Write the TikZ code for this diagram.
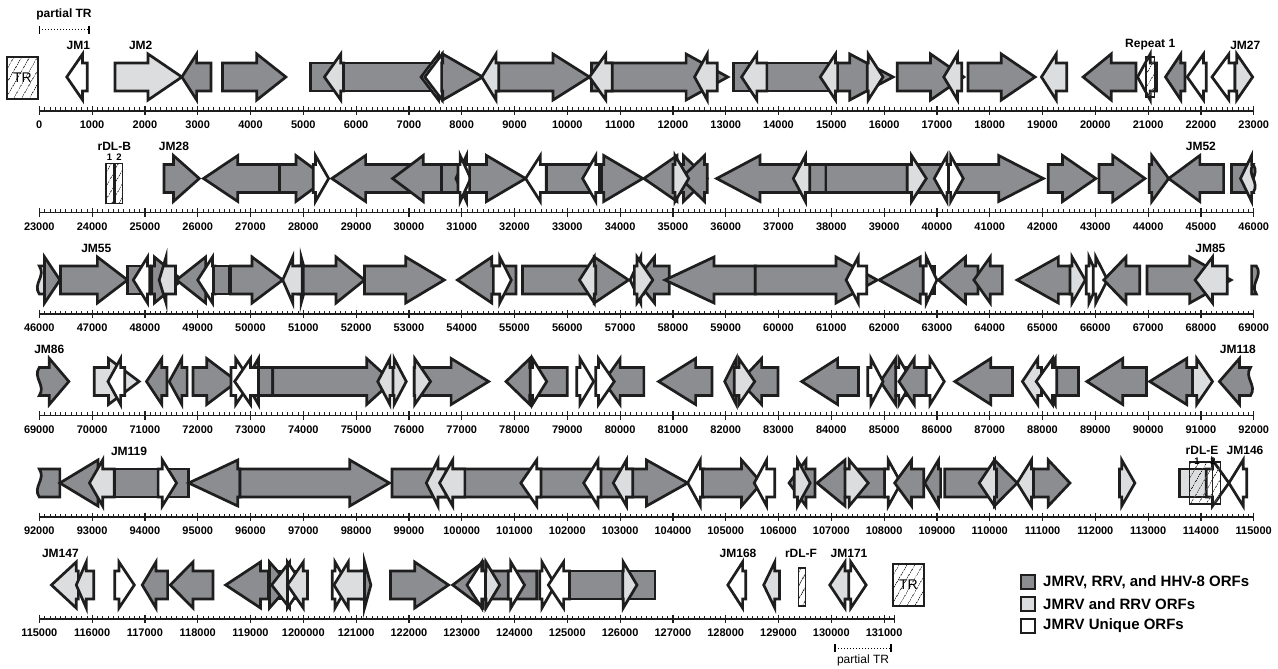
\documentclass[tikz,border=0pt]{standalone}
\usepackage{fontspec}
\setmainfont{Liberation Sans}
\usetikzlibrary{patterns.meta}
\definecolor{dkg}{HTML}{8C8D91}
\definecolor{ltg}{HTML}{DCDDDF}
\definecolor{ol}{HTML}{1E1E1E}
\tikzset{
  orf/.style={draw=ol, line width=2.7pt, line join=miter},
  dk/.style={orf, fill=dkg},
  lt/.style={orf, fill=ltg},
  wt/.style={orf, fill=white},
  hatchbox/.style={draw=ol, line width=1.3pt, pattern={Lines[angle=60,distance=6.5pt,line width=0.7pt]}, pattern color=ol},
  lab/.style={font=\bfseries\fontsize{12}{13}\selectfont, inner sep=0pt},
  small/.style={font=\bfseries\fontsize{9.5}{10}\selectfont, inner sep=0pt},
  ticklab/.style={font=\bfseries\fontsize{11}{12}\selectfont, inner sep=0pt},
  leg/.style={font=\bfseries\fontsize{15}{16}\selectfont, inner sep=0pt, anchor=west},
}
\newcommand\cy{{77,178.5,280,381.5,483,585}}
% gene arrow: row, back (kb), tip (kb), head length (kb), style
\newcommand\gn[5]{%
  \pgfmathsetmacro\xb{39.3+(#2-23*#1)*52.8}%
  \pgfmathsetmacro\xt{39.3+(#3-23*#1)*52.8}%
  \pgfmathsetmacro\xh{\xt-sign(#3-#2)*#4*52.8}%
  \pgfmathsetmacro\yc{\cy[#1]}%
  \draw[#5] (\xb,\yc-14) -- (\xh,\yc-14) -- (\xh,\yc-23) -- (\xt,\yc) -- (\xh,\yc+23) -- (\xh,\yc+14) -- (\xb,\yc+14) -- cycle;
}
% gene arrow with wavy back edge
\newcommand\gnw[5]{%
  \pgfmathsetmacro\xb{39.3+(#2-23*#1)*52.8}%
  \pgfmathsetmacro\xt{39.3+(#3-23*#1)*52.8}%
  \pgfmathsetmacro\xh{\xt-sign(#3-#2)*#4*52.8}%
  \pgfmathsetmacro\yc{\cy[#1]}%
  \draw[#5] (\xb,\yc-14) -- (\xh,\yc-14) -- (\xh,\yc-23) -- (\xt,\yc) -- (\xh,\yc+23) -- (\xh,\yc+14) -- (\xb,\yc+14) .. controls (\xb+7,\yc+4) and (\xb-7,\yc-4) .. cycle;
}
% rectangle (body only): row, a, b, style
\newcommand\gr[4]{%
  \pgfmathsetmacro\xa{39.3+(#2-23*#1)*52.8}%
  \pgfmathsetmacro\xb{39.3+(#3-23*#1)*52.8}%
  \pgfmathsetmacro\yc{\cy[#1]}%
  \draw[#4] (\xa,\yc-14) rectangle (\xb,\yc+14);
}
% rectangle with wavy edge at b
\newcommand\grw[4]{%
  \pgfmathsetmacro\xa{39.3+(#2-23*#1)*52.8}%
  \pgfmathsetmacro\xb{39.3+(#3-23*#1)*52.8}%
  \pgfmathsetmacro\yc{\cy[#1]}%
  \draw[#4] (\xa,\yc-14) -- (\xb,\yc-14) .. controls (\xb+7,\yc-4) and (\xb-7,\yc+4) .. (\xb,\yc+14) -- (\xa,\yc+14) -- cycle;
}
% hatched box: row, a, b, half height, vertical shift
\newcommand\ghb[5]{%
  \pgfmathsetmacro\xa{39.3+(#2-23*#1)*52.8}%
  \pgfmathsetmacro\xb{39.3+(#3-23*#1)*52.8}%
  \pgfmathsetmacro\yc{\cy[#1]+#5}%
  \draw[hatchbox] (\xa,\yc-#4) rectangle (\xb,\yc+#4);
}
% label above a row: name, row, kb, text
\newcommand\glab[4]{%
  \pgfmathsetmacro\xl{39.3+(#3-23*#2)*52.8}%
  \pgfmathsetmacro\yl{\cy[#2]-32}%
  \node[lab] (#1) at (\xl,\yl) {#4};
}
% axis: row, number of 100 bp steps, number of kb labels
\newcommand\axisrow[3]{%
  \pgfmathsetmacro\ya{\cy[#1]+34}%
  \foreach \i in {0,...,#2} {\draw[line width=0.6pt,ol] ({39.3+\i*5.28},\ya) -- ++(0,-3.5);}
  \draw[line width=1.6pt,ol] (38.8,\ya) -- ({39.8+#2*5.28},\ya);
  \foreach \k in {0,...,#3} {%
    \draw[line width=1.2pt,ol] ({39.3+\k*52.8},\ya-4.5) -- ++(0,8.5);
    \node[ticklab] (t#1x\k) at ({39.3+\k*52.8},\ya+14) {\ifnum\numexpr23*#1+\k\relax=120 1200000\else\the\numexpr(23*#1+\k)*1000\relax\fi};
  }
  \draw[line width=1.2pt,ol] ({39.3+#2*5.28},\ya-4.5) -- ++(0,8.5);
}
\begin{document}
\begin{tikzpicture}[x=1pt,y=-1pt]
\useasboundingbox[fill=white] (0,0) rectangle (1278,669);

% ---------------- axes ----------------
\axisrow{0}{230}{23}
\axisrow{1}{230}{23}
\axisrow{2}{230}{23}
\axisrow{3}{230}{23}
\axisrow{4}{230}{23}
\axisrow{5}{162}{16}

% ---------------- row 1 (0-23 kb) ----------------
\draw[hatchbox] (7,57) rectangle (38,99);
\node[font=\fontsize{14}{15}\selectfont, inner sep=0pt] (trL) at (22.5,78) {TR};
\node[lab] (ptr1) at (64,14) {partial TR};
\coordinate (pa1) at (39.3,30);
\coordinate (pb1) at (89,30);
\draw[dotted, line width=1pt] (pa1) -- (pb1);
\draw[line width=1.2pt] ([yshift=-4pt]pa1) -- ([yshift=4pt]pa1);
\draw[line width=1.2pt] ([yshift=-4pt]pb1) -- ([yshift=4pt]pb1);
\glab{jm1}{0}{0.74}{JM1}
\glab{jm2}{0}{1.92}{JM2}
\glab{rep1}{0}{21.04}{Repeat 1}
\glab{jm27}{0}{22.84}{JM27}

\gn{0}{0.91}{0.52}{0.30}{wt}
\gn{0}{1.435}{2.70}{0.64}{lt}
\gn{0}{3.25}{2.70}{0.28}{dk}
\gn{0}{3.47}{4.67}{0.55}{dk}
\gr{0}{5.13}{7.55}{dk}
\gn{0}{5.76}{5.40}{0.31}{lt}
\gn{0}{7.62}{7.23}{0.33}{wt}
\gn{0}{7.67}{7.30}{0.33}{wt}
\gn{0}{7.62}{8.40}{0.76}{dk}
\gn{0}{8.69}{10.42}{0.69}{dk}
\gn{0}{8.70}{8.38}{0.27}{lt}
\gn{0}{10.46}{13.04}{0.79}{dk}
\gn{0}{10.85}{10.42}{0.31}{lt}
\gn{0}{12.84}{12.41}{0.24}{lt}
\gr{0}{13.15}{15.12}{dk}
\gn{0}{13.78}{13.30}{0.29}{lt}
\gn{0}{15.12}{16.17}{0.82}{dk}
\gn{0}{15.12}{14.79}{0.29}{lt}
\gn{0}{15.68}{15.98}{0.28}{lt}
\gn{0}{16.25}{17.51}{0.63}{dk}
\gn{0}{17.47}{17.13}{0.26}{lt}
\gn{0}{17.59}{18.86}{0.64}{dk}
\gn{0}{19.46}{18.98}{0.28}{lt}
\gn{0}{20.77}{19.77}{0.53}{dk}
\gn{0}{21.16}{20.80}{0.24}{wt}
\ghb{0}{20.96}{21.12}{20}{0}
\gn{0}{21.70}{21.33}{0.29}{dk}
\gn{0}{22.10}{21.74}{0.31}{wt}
\gn{0}{22.645}{22.21}{0.32}{wt}
\gn{0}{22.645}{22.98}{0.30}{lt}

% ---------------- row 2 (23-46 kb) ----------------
\glab{rdlb}{1}{24.42}{rDL-B}
\node[small] (rdlb1) at ({39.3+(24.33-23)*52.8},157) {1};
\node[small] (rdlb2) at ({39.3+(24.51-23)*52.8},157) {2};
\glab{jm28}{1}{25.55}{JM28}
\glab{jm52}{1}{45.0}{JM52}
\ghb{1}{24.263}{24.40}{20}{5}
\ghb{1}{24.434}{24.58}{20}{5}
\gn{1}{25.36}{26.03}{0.49}{dk}
\gn{1}{27.55}{26.11}{0.65}{dk}
\gn{1}{27.55}{28.45}{0.59}{dk}
\gn{1}{28.19}{28.48}{0.25}{wt}
\gn{1}{30.62}{28.54}{0.64}{dk}
\gn{1}{30.62}{29.69}{0.58}{dk}
\gr{1}{30.62}{30.95}{dk}
\gn{1}{31.16}{30.89}{0.20}{wt}
\gn{1}{30.93}{31.17}{0.20}{wt}
\gn{1}{31.15}{32.21}{0.74}{dk}
\gn{1}{32.60}{32.21}{0.28}{wt}
\gr{1}{32.60}{33.60}{dk}
\gn{1}{33.61}{33.29}{0.25}{wt}
\gn{1}{33.65}{34.43}{0.74}{dk}
\gn{1}{35.10}{34.45}{0.63}{dk}
\gn{1}{35.10}{35.65}{0.45}{dk}
\gn{1}{35.65}{35.15}{0.45}{dk}
\gn{1}{35.00}{35.30}{0.26}{lt}
\gn{1}{37.90}{35.83}{0.82}{dk}
\gr{1}{37.90}{39.44}{dk}
\gn{1}{37.59}{37.28}{0.23}{lt}
\gn{1}{39.44}{42.015}{0.845}{dk}
\gn{1}{39.44}{39.80}{0.28}{lt}
\gn{1}{40.27}{39.95}{0.24}{wt}
\gn{1}{40.22}{40.50}{0.24}{wt}
\gn{1}{42.11}{43.01}{0.63}{dk}
\gn{1}{43.07}{43.94}{0.61}{dk}
\gn{1}{44.02}{44.39}{0.32}{dk}
\gn{1}{45.43}{44.39}{0.59}{dk}
\grw{1}{45.58}{45.99}{dk}
\gnw{1}{45.99}{45.75}{0.21}{lt}

% ---------------- row 3 (46-69 kb) ----------------
\glab{jm55}{2}{47.08}{JM55}
\glab{jm85}{2}{68.18}{JM85}
\grw{2}{46.12}{46.00}{lt}
\gn{2}{46.10}{46.39}{0.29}{dk}
\gn{2}{46.40}{47.67}{0.57}{dk}
\gr{2}{47.67}{47.95}{dk}
\gn{2}{48.09}{47.78}{0.27}{wt}
\gn{2}{48.13}{48.70}{0.52}{dk}
\gn{2}{48.58}{48.27}{0.13}{lt}
\gn{2}{49.20}{48.60}{0.55}{dk}
\gn{2}{49.33}{49.00}{0.28}{wt}
\gr{2}{49.30}{49.59}{dk}
\gn{2}{49.62}{50.61}{0.58}{dk}
\gn{2}{50.90}{51.08}{0.12}{dk}
\gn{2}{50.98}{50.61}{0.19}{lt}
\gn{2}{51.00}{52.16}{0.54}{dk}
\gn{2}{52.16}{53.67}{0.73}{dk}
\gn{2}{55.03}{53.92}{0.65}{dk}
\gn{2}{54.60}{54.94}{0.22}{wt}
\gn{2}{55.15}{57.16}{0.65}{dk}
\gn{2}{56.54}{56.23}{0.28}{lt}
\gn{2}{57.45}{57.19}{0.20}{lt}
\gn{2}{57.93}{57.30}{0.35}{dk}
\gn{2}{57.27}{57.62}{0.30}{lt}
\gn{2}{59.56}{57.85}{0.93}{dk}
\gn{2}{59.56}{61.87}{0.78}{dk}
\gn{2}{61.67}{61.28}{0.23}{wt}
\gn{2}{62.74}{61.905}{0.78}{dk}
\gr{2}{62.74}{62.96}{dk}
\gn{2}{62.74}{63.00}{0.20}{wt}
\gn{2}{63.78}{63.03}{0.51}{dk}
\gn{2}{64.24}{63.70}{0.31}{dk}
\gn{2}{65.53}{64.52}{0.78}{dk}
\gn{2}{65.52}{65.81}{0.25}{lt}
\gn{2}{65.83}{66.08}{0.20}{wt}
\gn{2}{65.96}{66.23}{0.22}{wt}
\gn{2}{66.84}{66.16}{0.42}{dk}
\gn{2}{66.98}{68.57}{0.78}{dk}
\gn{2}{68.50}{67.89}{0.33}{lt}
\grw{2}{68.96}{69.05}{dk}

% ---------------- row 4 (69-92 kb) ----------------
\glab{jm86}{3}{69.19}{JM86}
\glab{jm118}{3}{91.70}{JM118}
\gnw{3}{69.00}{69.56}{0.37}{dk}
\gn{3}{70.04}{70.89}{0.58}{lt}
\gn{3}{70.62}{70.30}{0.24}{wt}
\gn{3}{71.42}{71.03}{0.29}{dk}
\gn{3}{71.80}{71.46}{0.24}{dk}
\gn{3}{71.91}{72.75}{0.58}{dk}
\gn{3}{73.42}{72.90}{0.25}{dk}
\gn{3}{72.63}{73.01}{0.29}{wt}
\gn{3}{73.15}{72.70}{0.30}{wt}
\gn{3}{73.42}{75.68}{0.48}{dk}
\gn{3}{75.72}{75.41}{0.23}{lt}
\gn{3}{75.70}{75.95}{0.23}{lt}
\gn{3}{76.10}{77.51}{0.71}{dk}
\gn{3}{76.10}{76.41}{0.30}{lt}
\gn{3}{79.00}{77.84}{0.45}{dk}
\gn{3}{78.30}{78.61}{0.27}{wt}
\gn{3}{79.18}{79.50}{0.26}{wt}
\gn{3}{80.45}{79.69}{0.31}{dk}
\gn{3}{79.54}{79.89}{0.30}{wt}
\gn{3}{81.74}{80.73}{0.70}{dk}
\gn{3}{82.99}{82.27}{0.41}{dk}
\gn{3}{82.20}{81.98}{0.22}{dk}
\gn{3}{82.16}{82.55}{0.30}{lt}
\gn{3}{84.515}{83.44}{0.68}{dk}
\gn{3}{85.80}{84.93}{0.29}{dk}
\gn{3}{84.69}{84.98}{0.23}{wt}
\gn{3}{85.22}{85.53}{0.25}{wt}
\gn{3}{85.80}{85.28}{0.29}{dk}
\gn{3}{85.80}{86.14}{0.27}{wt}
\gn{3}{87.43}{86.34}{0.68}{dk}
\gn{3}{88.68}{87.98}{0.26}{dk}
\gn{3}{87.98}{87.62}{0.29}{lt}
\gn{3}{88.27}{87.88}{0.31}{wt}
\gn{3}{89.97}{88.84}{0.68}{dk}
\gn{3}{90.84}{90.03}{0.70}{dk}
\gn{3}{90.84}{91.22}{0.30}{lt}
\gnw{3}{91.94}{91.35}{0.38}{dk}

% ---------------- row 5 (92-115 kb) ----------------
\glab{jm119}{4}{93.70}{JM119}
\grw{4}{92.39}{92.00}{dk}
\gn{4}{93.19}{92.39}{0.72}{dk}
\gn{4}{93.42}{92.95}{0.25}{lt}
\gr{4}{93.42}{94.83}{dk}
\gn{4}{94.25}{94.60}{0.27}{wt}
\gn{4}{95.80}{94.83}{0.93}{dk}
\gn{4}{95.80}{98.63}{0.75}{dk}
\gn{4}{98.68}{104.28}{0.78}{dk}
\gn{4}{99.70}{99.33}{0.22}{lt}
\gn{4}{100.06}{99.58}{0.25}{lt}
\gn{4}{101.50}{101.12}{0.30}{wt}
\gn{4}{102.64}{102.31}{0.27}{wt}
\gn{4}{103.24}{102.87}{0.25}{lt}
\gn{4}{104.58}{104.28}{0.24}{wt}
\gn{4}{104.56}{105.68}{0.38}{dk}
\gn{4}{105.93}{105.54}{0.235}{wt}
\gn{4}{106.69}{106.20}{0.32}{dk}
\gn{4}{106.30}{106.60}{0.24}{lt}
\gn{4}{108.01}{106.73}{0.53}{dk}
\gn{4}{107.26}{107.70}{0.36}{lt}
\gn{4}{108.01}{108.32}{0.24}{wt}
\gn{4}{108.75}{108.20}{0.32}{dk}
\gn{4}{109.07}{108.77}{0.26}{dk}
\gn{4}{109.15}{110.52}{0.43}{dk}
\gn{4}{110.13}{109.80}{0.29}{lt}
\gn{4}{110.79}{111.52}{0.41}{dk}
\gn{4}{110.83}{110.52}{0.27}{lt}
\gn{4}{112.46}{112.75}{0.25}{lt}
\gr{4}{113.60}{114.15}{lt}
\gn{4}{114.10}{114.53}{0.31}{wt}
\ghb{4}{113.79}{114.22}{21}{0}
\ghb{4}{114.22}{114.37}{21}{0}
\gn{4}{114.87}{114.53}{0.27}{wt}
\node[lab] (rdle) at (1202,450) {rDL-E};
\node[small] (rdle1) at (1197,461) {1};
\node[small] (rdle2) at (1213,461) {2};
\node[lab] (jm146) at (1245,450) {JM146};

% ---------------- row 6 (115-131 kb) ----------------
\glab{jm147}{5}{115.40}{JM147}
\node[lab] (jm168) at (738,553) {JM168};
\node[lab] (rdlf) at (801,553) {rDL-F};
\node[lab] (jm171) at (849,553) {JM171};
\gn{5}{115.74}{115.23}{0.47}{lt}
\gn{5}{116.03}{115.70}{0.19}{lt}
\gn{5}{116.43}{116.80}{0.29}{wt}
\gn{5}{117.43}{116.95}{0.26}{dk}
\gn{5}{118.29}{117.48}{0.43}{dk}
\gn{5}{119.34}{118.53}{0.66}{dk}
\gr{5}{119.34}{120.08}{lt}
\gn{5}{119.36}{119.74}{0.38}{dk}
\gn{5}{119.74}{119.40}{0.34}{lt}
\gn{5}{119.70}{120.00}{0.30}{wt}
\gn{5}{120.08}{119.70}{0.30}{lt}
\gn{5}{120.55}{120.85}{0.25}{wt}
\gn{5}{121.10}{121.28}{0.12}{dk}
\gn{5}{121.16}{120.58}{0.27}{lt}
\gn{5}{121.65}{122.75}{0.64}{dk}
\gn{5}{124.42}{122.83}{0.58}{dk}
\gn{5}{123.55}{123.10}{0.28}{wt}
\gn{5}{123.45}{123.72}{0.26}{lt}
\gn{5}{123.88}{124.19}{0.26}{wt}
\gn{5}{124.48}{124.77}{0.25}{wt}
\gn{5}{125.04}{124.64}{0.29}{wt}
\gr{5}{125.04}{126.66}{dk}
\gn{5}{126.05}{126.32}{0.26}{lt}
\gn{5}{128.38}{128.04}{0.28}{wt}
\gn{5}{129.02}{128.72}{0.21}{lt}
\ghb{5}{129.38}{129.51}{19}{2}
\gn{5}{130.37}{129.97}{0.29}{lt}
\gn{5}{130.33}{130.66}{0.29}{wt}
\draw[hatchbox] (893,564) rectangle (924,606);
\node[font=\fontsize{14}{15}\selectfont, inner sep=0pt] (trR) at (908.5,585) {TR};
\coordinate (pa6) at (835,648);
\coordinate (pb6) at (891,648);
\draw[dotted, line width=1pt] (pa6) -- (pb6);
\draw[line width=1.2pt] ([yshift=-4pt]pa6) -- ([yshift=4pt]pa6);
\draw[line width=1.2pt] ([yshift=-4pt]pb6) -- ([yshift=4pt]pb6);
\node[font=\fontsize{12}{13}\selectfont, inner sep=0pt] (ptr6) at (863,660) {partial TR};

% ---------------- legend ----------------
\draw[dk] (1021,575) rectangle (1035,589);
\node[leg] (lg1) at (1043,582) {JMRV, RRV, and HHV-8 ORFs};
\draw[lt] (1021,597) rectangle (1035,611);
\node[leg] (lg2) at (1043,604) {JMRV and RRV ORFs};
\draw[wt] (1021,619) rectangle (1035,633);
\node[leg] (lg3) at (1043,626) {JMRV Unique ORFs};
\end{tikzpicture}
\end{document}
